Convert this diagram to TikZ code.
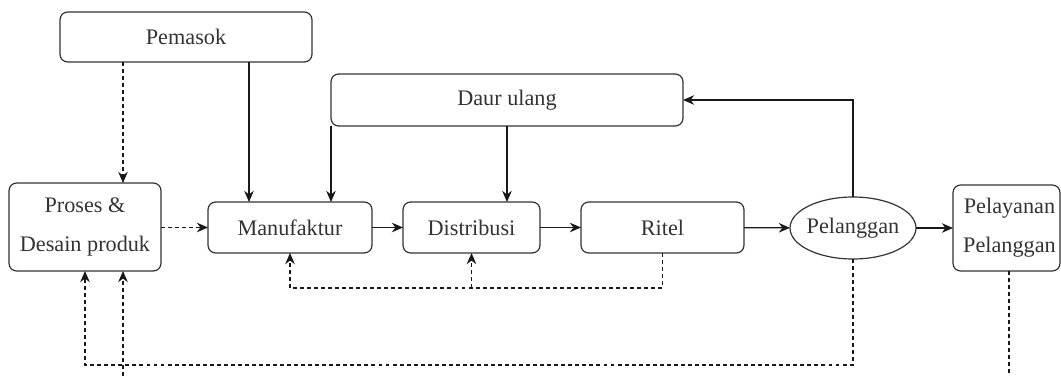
\documentclass[tikz,border=0pt]{standalone}
\usepackage{fontspec}
\setmainfont{Liberation Serif}
\usetikzlibrary{arrows.meta,shapes.geometric}
\newcommand{\lbox}[5]{%
  \node[box,minimum width=#4*0.025cm,minimum height=#5*0.025cm] (#1) at (#2,#3) {};}
\tikzset{
  box/.style={draw=black!80,line width=0.85pt,rounded corners=5.5pt,inner sep=0pt,outer sep=0pt},
  tag/.style={font=\fontsize{15.8}{27.7}\selectfont,text=black!80,align=center},
  link/.style={draw=black!90,line width=0.85pt,-{Stealth[length=2.8mm,width=2.4mm]}},
  flat/.style={draw=black!90,line width=0.85pt},
  dline/.style={dash pattern=on 2.8pt off 2.2pt}}

\begin{document}
\begin{tikzpicture}[x=0.025cm,y=-0.025cm]
  \useasboundingbox (0,0) rectangle (1061,376);
  \lbox{pemasok}{186}{37}{252}{50}
  \lbox{daur}{507}{100}{352}{52}
  \lbox{proses}{85}{227}{152}{88}
  \lbox{manuf}{290}{227.5}{164}{51}
  \lbox{distri}{471.5}{227.5}{137}{51}
  \lbox{ritel}{662.5}{227.5}{163}{51}
  \lbox{layan}{1006.5}{228}{107}{86}
  \node[draw=black!80,line width=0.85pt,ellipse,inner sep=0pt,outer sep=0pt,
    minimum width=126*0.025cm,minimum height=62*0.025cm] (plg) at (853,228) {};
  \node[tag] at (pemasok) {Pemasok};
  \node[tag] at (daur) {Daur ulang};
  \node[tag] at (proses) {Proses \&\\Desain produk};
  \node[tag] at (manuf) {Manufaktur};
  \node[tag] at (distri) {Distribusi};
  \node[tag] at (ritel) {Ritel};
  \node[tag] at (plg) {Pelanggan};
  \node[tag] at (1009.5,228) {Pelayanan\\Pelanggan};
  \coordinate (rb) at (0,288);
  \coordinate (lb) at (0,365);
  \coordinate (bl) at (123,376);
  \coordinate (br) at (1009,376);
  \foreach \a/\b in {manuf/distri,distri/ritel,ritel/plg,plg/layan}
    \draw[link] (\a) -- (\b);
  \draw[link] (249,0 |- pemasok.south) -- (249,0 |- manuf.north);
  \draw[link] (daur.south west) -- (daur.south west |- manuf.north);
  \draw[link] (daur.south) -- (daur.south |- distri.north);
  \draw[link] (plg.north) -- (plg.north |- daur.east) -- (daur.east);
  \draw[link,dline] (123,0 |- pemasok.south) -- (123,0 |- proses.north);
  \draw[link,dline] (proses.east |- manuf.west) -- (manuf.west);
  \draw[link,dline] (ritel.south) -- (ritel.south |- rb) -- (manuf.south |- rb) -- (manuf.south);
  \draw[link,dline] (distri.south |- rb) -- (distri.south);
  \draw[link,dline] (plg.south) -- (plg.south |- lb) -- (proses.south |- lb) -- (proses.south);
  \draw[link,dline] (bl) -- (bl |- proses.south);
  \draw[flat,dline] (br |- layan.south) -- (br);
\end{tikzpicture}
\end{document}
